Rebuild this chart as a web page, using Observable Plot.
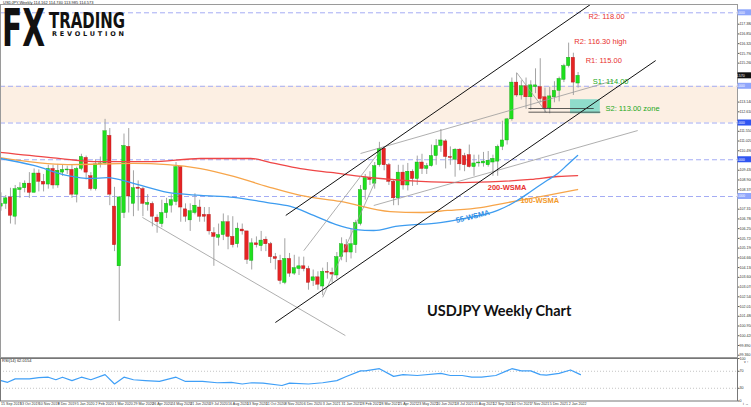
<!DOCTYPE html>
<html><head><meta charset="utf-8">
<script src="https://cdn.jsdelivr.net/npm/d3@7"></script>
<script src="https://cdn.jsdelivr.net/npm/@observablehq/plot@0.6"></script>
<style>
body{margin:0;background:#fff;}
#wrap{position:relative;width:751px;height:407px;overflow:hidden;background:#fff;font-family:"Liberation Sans",sans-serif;}
#wrap > svg, #wrap > figure{position:absolute;left:0;margin:0;}
.hdr{position:absolute;font-size:4px;line-height:4px;color:#222;white-space:nowrap;font-family:"Liberation Sans Narrow","Liberation Sans",sans-serif;}
#title{position:absolute;left:427px;top:302px;font-family:Lato,sans-serif;font-weight:bold;font-size:14.5px;color:#111;white-space:nowrap;}
</style></head><body><div id="wrap"></div>
<script>
// ---- weekly candles, index 0 = week of 15 Sep 2019 ----
const openP  = [107.45,107.6,107.95,106.9,108.35,108.45,108.7,108.2,109.25,108.8,108.65,109.5,108.6,109.3,109.42,109.45,108.1,109.5,110.1,109.1,108.4,109.75,109.8,111.3,107.45,104.2,107.1,110.7,107.6,108.48,108.4,107.55,107.6,106.85,106.5,107.1,107.5,107.7,109.6,107.3,106.7,107.1,107.4,107.0,107.0,106.0,105.75,105.9,106.6,105.8,105.4,106.2,106.1,104.5,105.45,105.3,105.65,105.4,104.7,104.5,103.3,104.6,103.8,104.05,104.2,104.05,103.4,103.6,103.1,103.9,103.85,103.7,104.7,105.35,104.95,105.35,106.5,108.35,109.0,108.7,109.7,110.6,109.7,108.8,107.9,109.3,108.6,109.35,108.95,109.85,109.5,109.65,110.2,110.75,111.0,110.15,110.0,110.55,110.2,110.25,109.6,109.8,109.8,109.7,109.85,109.9,110.7,111.05,112.2,114.2,113.5,114.0,113.4,113.95,113.95,113.4,112.8,113.4,113.75,114.35,115.1,115.55,114.15];
const highP  = [108.2,108.05,108.45,108.6,108.75,108.85,109.3,109.5,109.45,109.2,109.7,109.7,109.75,109.7,109.65,109.7,109.6,110.3,110.2,109.3,110.0,110.15,112.2,111.7,108.5,108.0,111.4,111.7,109.4,108.85,108.5,108.1,107.7,107.0,107.8,107.9,108.1,109.85,109.65,107.6,107.6,108.15,107.8,107.4,107.4,106.3,106.5,107.05,106.95,106.9,106.55,106.5,106.1,105.7,105.8,106.1,105.8,105.5,104.9,104.8,105.7,104.9,104.8,104.7,104.7,104.2,104.0,103.9,104.1,104.4,104.1,104.95,105.75,105.65,106.2,106.7,108.6,109.2,109.35,109.85,110.95,110.7,109.8,108.9,109.7,109.7,109.8,109.45,110.2,110.3,109.8,110.8,111.1,111.65,111.1,110.7,110.6,110.6,110.35,110.8,110.25,110.25,110.4,110.45,110.25,110.8,112.1,112.25,114.45,114.7,114.3,114.45,114.3,114.95,115.5,113.9,113.95,114.25,114.5,115.2,116.35,115.8,114.75];
const lowP   = [107.2,107.3,106.5,106.45,107.9,108.2,107.9,108.2,108.25,108.25,108.4,108.4,108.45,109.1,109.2,107.9,107.65,109.4,108.9,108.3,108.3,109.55,109.7,107.5,105.0,101.2,106.8,107.1,106.9,107.2,106.9,107.2,106.35,106.0,106.3,106.8,107.1,107.5,106.6,106.6,106.1,107.0,106.6,106.6,105.9,104.2,105.3,105.6,105.1,105.2,105.2,105.9,104.3,104.0,105.2,105.0,105.0,104.35,104.0,103.2,103.2,103.6,103.7,103.7,103.9,102.9,103.1,102.9,102.6,103.5,103.3,103.5,104.5,104.4,104.6,104.9,106.4,107.8,108.6,108.4,109.6,109.4,108.6,107.5,107.5,108.35,108.3,108.55,108.6,109.2,109.2,109.6,109.7,110.4,109.5,109.7,109.05,109.4,109.35,109.55,109.1,109.6,109.6,109.6,109.1,109.1,110.5,110.8,112.1,113.4,113.25,112.75,112.7,113.6,113.1,112.55,112.5,113.1,113.15,114.2,115.0,113.5,113.9];
const closeP = [107.6,107.9,106.95,108.4,108.45,108.7,108.2,109.25,108.8,108.65,109.5,108.6,109.4,109.45,109.47,108.1,109.5,110.15,109.3,108.4,109.75,109.8,111.55,108.1,105.35,107.95,110.75,108.0,108.45,108.42,107.6,107.65,106.9,106.6,107.1,107.6,107.8,109.6,107.4,106.9,107.2,107.5,106.9,106.9,106.1,105.8,105.9,106.6,105.8,105.35,106.25,106.1,104.55,105.45,105.35,105.6,105.4,104.7,104.6,103.4,104.6,103.8,104.1,104.2,104.05,103.3,103.6,103.2,103.9,103.85,103.75,104.7,105.4,104.95,105.4,106.55,108.35,109.0,108.9,109.65,110.6,109.7,108.8,107.9,109.3,108.6,109.35,108.95,109.85,109.5,109.65,110.2,110.75,111.05,110.15,110.1,110.55,109.75,109.7,109.6,109.8,109.85,109.9,109.95,110.05,110.7,111.05,112.2,114.2,113.5,114.0,113.4,114.05,114.05,113.3,112.8,113.45,113.75,114.4,115.1,115.55,114.2,114.57];

// ---- moving averages (week index, price) ----
const ma200Idx = [-0.2,10.5,21,31.6,42.2,52.8,57,63.3,69.7,80.2,88.7,97.1,105.6,112,117.7,121.9];
const ma200Val = [110.40,110.12,109.90,109.90,110.07,110.07,109.85,109.52,109.31,108.98,108.82,108.76,108.82,108.93,109.09,109.14];
const ma100Idx = [-0.2,14.1,28,35.2,42.2,49.2,56.3,63.3,71.8,82.3,88.7,94.4,101.4,107.1,115.5,121.9];
const ma100Val = [110.12,109.74,109.80,109.74,109.52,109.09,108.54,108.06,107.73,107.18,107.13,107.24,107.40,107.67,108.06,108.38];
const ma55Idx  = [-0.2,6.9,14.1,18.9,22.5,28,35.2,42.2,49.2,56.3,61.2,66.1,70.7,75,78.8,83.4,92.9,97.8,105,108.8,112,115.1,117.7,119.8,121.9];
const ma55Val  = [110.07,109.69,109.14,108.98,109.03,108.71,108.22,108.06,107.95,107.67,107.46,106.97,106.48,106.20,106.15,106.37,106.58,106.80,107.24,107.73,108.27,108.82,109.25,109.74,110.23];

// ---- RSI(14) ----
const rsiIdx = [0,1.4,3,6,8,10,11.6,13,15,17,19,22,24,26,28,30.5,33.5,37,39,42.6,45.7,48.7,51,53,55.4,59.4,61,65,68,71,73,76,77,80,83,85,88,93,95,97.5,99.5,101.6,104.6,108,110,112,114,115.3,118,120.4,122.5];
const rsiVal = [48,44,52,52,55,56,50,56,48,56,50,62,40,56,50,48,46,56,46,46,43,44,40,43,42,36.5,42,40,43,48,57.6,71,71,76,58,62,60,65,60,60,56,56,60,76,71,71,62,61,65,73,62];

// ---- levels ----
const levelLines = [118, 114, 112, 110, 108];
const zoneLow = [112], zoneHigh = [114];
const s2Zone = {lo: 112.5, hi: 113.27};
const lastPrice = 114.57;

// ---- tick labels ----
const dateLabels = ["15 Sep 2019","13 Oct 2019","10 Nov 2019","8 Dec 2019","5 Jan 2020","2 Feb 2020","1 Mar 2020","29 Mar 2020","26 Apr 2020","24 May 2020","21 Jun 2020","19 Jul 2020","16 Aug 2020","13 Sep 2020","11 Oct 2020","8 Nov 2020","6 Dec 2020","3 Jan 2021","31 Jan 2021","28 Feb 2021","28 Mar 2021","25 Apr 2021","23 May 2021","20 Jun 2021","18 Jul 2021","15 Aug 2021","12 Sep 2021","10 Oct 2021","7 Nov 2021","5 Dec 2021","2 Jan 2022"];
const dateTickIdx = dateLabels.map((_, k) => k * 4);
const boxValues = levelLines.concat([lastPrice]);
const priceTicks = d3.range(37).map(k => +(99.36 + k * 0.53).toFixed(3))
  .filter(t => t < 118.42 && boxValues.every(b => Math.abs(b - t) > 0.34));
const rsiTicks = [100, 70, 30, 0];

// ---- trend lines (week index, price) ----
const channel = [
  {i1: 60.2, p1: 106.97, i2: 124.6, p2: 118.45},
  {i1: 58.0, p1: 101.14, i2: 138.4, p2: 115.40}
];
const dotted = [
  {i1: 29.9, p1: 106.86, i2: 72.8, p2: 100.43, d: "1.5,1.5"},
  {i1: 64.0, p1: 105.05, i2: 80.2, p2: 110.50, d: "2,2"},
  {i1: 68.0, p1: 102.51, i2: 79.2, p2: 108.87, d: "2,2"},
  {i1: 78.8, p1: 107.51, i2: 134.6, p2: 111.59, d: "4,2,1,2"},
  {i1: 76.0, p1: 110.34, i2: 129.5, p2: 114.31, d: "4,2,1,2"},
  {i1: 109.0, p1: 114.75, i2: 115.3, p2: 112.57, d: "1.5,1.5"}
];
const s2Lines = [
  {i1: 111.5, i2: 125.3, p: 112.79},
  {i1: 111.5, i2: 126.7, p: 112.59}
];

const candles = openP.map((o, i) => ({i, o, h: highP[i], l: lowP[i], c: closeP[i], up: closeP[i] >= o}));
const toPts = (ix, vs) => ix.map((i, k) => ({i, v: vs[k]}));

const xDom = [-0.106, 155.7];
const wrap = document.getElementById("wrap");
const FONT = "Liberation Sans Narrow, Liberation Sans, sans-serif";

const main = Plot.plot({
  width: 751, height: 357,
  marginLeft: 0, marginRight: 14, marginTop: 4, marginBottom: 0,
  style: {background: "transparent", fontFamily: FONT, overflow: "visible"},
  x: {domain: xDom, axis: null},
  y: {domain: [99.236, 118.452], axis: null},
  marks: [
    Plot.rect(zoneLow.map((lo, k) => ({lo, hi: zoneHigh[k]})), {x1: xDom[0], x2: xDom[1], y1: "lo", y2: "hi", fill: "#fcefe3"}),
    Plot.ruleY(levelLines, {stroke: "#a4acf4", strokeWidth: 1, strokeDasharray: "5,3"}),
    Plot.rect([s2Zone], {x1: 120.4, x2: 126.7, y1: "lo", y2: "hi", fill: "#8fdccb"}),
    Plot.ruleX(candles, {x: "i", y1: "l", y2: "h", stroke: "#a3a3a3", strokeWidth: 1, clip: true}),
    Plot.rect(candles, {x1: d => d.i - 0.36, x2: d => d.i + 0.36, y1: "o", y2: d => Math.abs(d.c - d.o) < 0.04 ? d.o + (d.up ? 0.05 : -0.05) : d.c,
      fill: d => d.up ? "#1ee01e" : "#e52424", stroke: d => d.up ? "#10a010" : "#b01414", strokeWidth: 0.4, clip: true}),
    Plot.line(toPts(ma200Idx, ma200Val), {x: "i", y: "v", stroke: "#ef4646", strokeWidth: 1.3, curve: "monotone-x", clip: true}),
    Plot.line(toPts(ma100Idx, ma100Val), {x: "i", y: "v", stroke: "#f7a54a", strokeWidth: 1.3, curve: "monotone-x", clip: true}),
    Plot.line(toPts(ma55Idx, ma55Val), {x: "i", y: "v", stroke: "#3d9cf0", strokeWidth: 1.3, curve: "monotone-x", clip: true}),
    Plot.link(dotted, {x1: "i1", y1: "p1", x2: "i2", y2: "p2", stroke: "#9a9a9a", strokeWidth: 0.8, strokeDasharray: d => d.d, clip: true}),
    Plot.link(channel, {x1: "i1", y1: "p1", x2: "i2", y2: "p2", stroke: "#111", strokeWidth: 1, clip: true}),
    Plot.link(s2Lines, {x1: "i1", y1: "p", x2: "i2", y2: "p", stroke: "#333", strokeWidth: 0.8}),
    Plot.text(["R2: 118.00"], {x: 124.2, y: 117.80, text: d => d, textAnchor: "start", fill: "#e8302e", fontSize: 7.5, fontFamily: FONT}),
    Plot.text(["R2: 116.30 high"], {x: 121.2, y: 116.44, text: d => d, textAnchor: "start", fill: "#e8302e", fontSize: 7.5, fontFamily: FONT}),
    Plot.text(["R1: 115.00"], {x: 123.6, y: 115.40, text: d => d, textAnchor: "start", fill: "#e8302e", fontSize: 7.5, fontFamily: FONT}),
    Plot.text(["S1: 114.00"], {x: 125.1, y: 114.26, text: d => d, textAnchor: "start", fill: "#22a822", fontSize: 7.5, fontFamily: FONT}),
    Plot.text(["S2: 113.00 zone"], {x: 127.8, y: 112.79, text: d => d, textAnchor: "start", fill: "#22a822", fontSize: 7.5, fontFamily: FONT}),
    Plot.text(["200-WSMA"], {x: 102.9, y: 108.48, text: d => d, textAnchor: "start", fill: "#e8302e", fontSize: 7.5, fontWeight: "bold", fontFamily: FONT}),
    Plot.text(["100-WSMA"], {x: 109.8, y: 107.78, text: d => d, textAnchor: "start", fill: "#f39a2b", fontSize: 7.5, fontWeight: "bold", fontFamily: FONT}),
    Plot.text(["55-WSMA"], {x: 99.7, y: 106.91, text: d => d, fill: "#2f8de4", fontSize: 7.5, fontWeight: "bold", rotate: -14, fontFamily: FONT}),
    Plot.axisY(priceTicks, {anchor: "right", tickSize: 1.5, tickPadding: 0.4, fontSize: 3.6, tickFormat: d => d.toFixed(3), stroke: "#555", fill: "#333", fontFamily: FONT}),
    Plot.ruleX([xDom[1]], {stroke: "#666"}),
    Plot.frame({stroke: "#9a9a9a"})
  ]
});
main.style.top = "0px";
wrap.appendChild(main);

// level boxes on the price scale
const ys = main.scale("y");
const svgMain = d3.select(main.tagName === "svg" ? main : main.querySelector("svg"));
const boxes = levelLines.map(v => ({v, bg: (v === 112 || v === 110) ? "#2f55f2" : "#8ea6fb"})).concat([{v: lastPrice, bg: "#111"}]);
const bg = svgMain.append("g");
boxes.forEach(b => {
  const y = ys.apply(b.v);
  bg.append("rect").attr("x", 737.5).attr("y", y - 3).attr("width", 13.5).attr("height", 6).attr("fill", b.bg);
  bg.append("text").attr("x", 738.5).attr("y", y + 1.3).attr("font-size", 3.6).attr("fill", "#fff").attr("font-family", FONT).text(b.v.toFixed(3));
});

const rsiPlot = Plot.plot({
  width: 751, height: 50,
  marginLeft: 0, marginRight: 14, marginTop: 1, marginBottom: 6.5,
  style: {background: "transparent", fontFamily: FONT, overflow: "visible"},
  x: {domain: xDom, axis: null},
  y: {domain: [0, 100], axis: null},
  marks: [
    Plot.ruleY([70, 30], {stroke: "#c4c4c4", strokeDasharray: "1,2"}),
    Plot.line(toPts(rsiIdx, rsiVal), {x: "i", y: "v", stroke: "#3f9ff7", strokeWidth: 1.2}),
    Plot.axisY(rsiTicks, {anchor: "right", tickSize: 1.5, tickPadding: 0.4, fontSize: 3.6, stroke: "#555", fill: "#333", fontFamily: FONT}),
    Plot.axisX(dateTickIdx, {anchor: "bottom", tickSize: 0, tickPadding: 1.2, fontSize: 3.6, textAnchor: "start", fill: "#333", fontFamily: FONT, tickFormat: (d) => dateLabels[d / 4]}),
    Plot.frame({stroke: "#777"})
  ]
});
rsiPlot.style.top = "356.5px";
wrap.appendChild(rsiPlot);

// header texts, logo, title
const hdr = document.createElement("div");
hdr.className = "hdr"; hdr.style.left = "3px"; hdr.style.top = "0.5px";
hdr.textContent = "USDJPY,Weekly  114.162 114.740 113.985 114.573";
wrap.appendChild(hdr);
const rh = document.createElement("div");
rh.className = "hdr"; rh.style.left = "2px"; rh.style.top = "358.5px";
rh.textContent = "RSI(14) 62.0154";
wrap.appendChild(rh);

const logo = d3.select(wrap).append("svg").attr("width", 130).attr("height", 52).style("top", "5px").style("left", "0px").style("overflow", "visible");
logo.append("text").attr("x", 2).attr("y", 41).attr("font-family", "DejaVu Sans").attr("font-weight", "bold").attr("font-size", 51)
  .attr("textLength", 43).attr("lengthAdjust", "spacingAndGlyphs").attr("fill", "#111").text("FX");
logo.append("text").attr("x", 49).attr("y", 22.5).attr("font-family", "DejaVu Sans").attr("font-weight", "bold").attr("font-size", 22)
  .attr("textLength", 76).attr("lengthAdjust", "spacingAndGlyphs").attr("fill", "#111").text("TRADING");
logo.append("text").attr("x", 52).attr("y", 31).attr("font-family", "DejaVu Sans").attr("font-weight", "bold").attr("font-size", 6.5)
  .attr("textLength", 72).attr("lengthAdjust", "spacing").attr("fill", "#111").text("REVOLUTION");

const title = document.createElement("div");
title.id = "title"; title.textContent = "USDJPY Weekly Chart";
wrap.appendChild(title);
</script></body></html>
